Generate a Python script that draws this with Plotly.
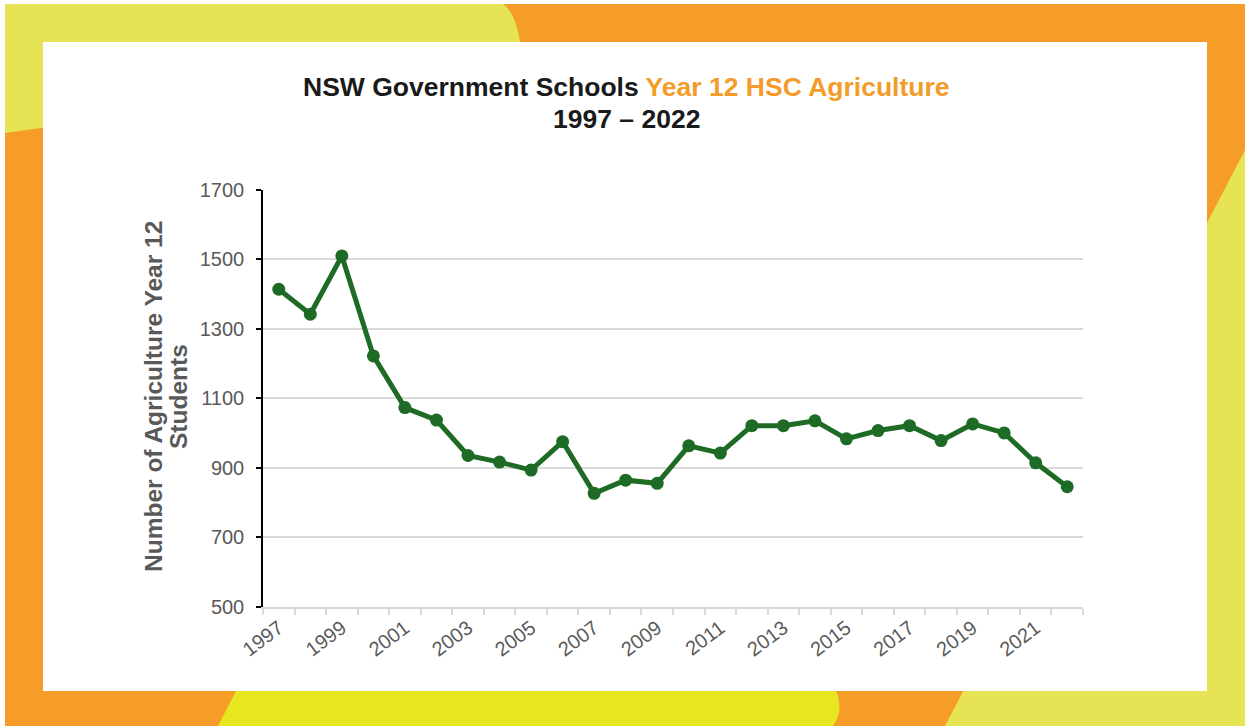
import plotly.graph_objects as go

years = list(range(1997, 2023))
students = [1414, 1342, 1510, 1222, 1073, 1037, 935, 916, 893, 975, 826, 864,
            855, 963, 942, 1021, 1021, 1035, 983, 1007, 1021, 978, 1026, 1000, 914, 845]
label_years = [y for y in years if y % 2 == 1]
y_ticks = [500, 700, 900, 1100, 1300, 1500, 1700]

W, H = 1245, 726
GREEN = "#1E6B25"
ORANGE = "#F59D28"
PALE_YELLOW = "#E6E455"
BRIGHT_YELLOW = "#E8E521"
GREY_TXT = "#595959"


def px(x):
    return min(max(x, 0), W) / W


def py(y):
    return 1 - min(max(y, 0), H) / H


def path_from(cmds):
    out = []
    for c in cmds:
        if isinstance(c, str):
            out.append(c)
        else:
            out.append(f"{px(c[0]):.5f},{py(c[1]):.5f}")
    return " ".join(out)


shapes = [
    # orange base (thin white edge top/left)
    dict(type="rect", xref="paper", yref="paper", x0=px(5), x1=px(W), y0=py(H), y1=py(4),
         fillcolor=ORANGE, line_width=0, layer="below"),
    # top-left pale yellow
    dict(type="path", xref="paper", yref="paper", layer="below", fillcolor=PALE_YELLOW, line_width=0,
         path=path_from(["M", (5, 4), "L", (503, 4), "Q", (519, 15), (522, 60), "L", (5, 133), "Z"])),
    # right pale yellow
    dict(type="path", xref="paper", yref="paper", layer="below", fillcolor=PALE_YELLOW, line_width=0,
         path=path_from(["M", (945, 726), "L", (1245, 150), "L", (1245, 726), "Z"])),
    # bottom bright yellow pill
    dict(type="path", xref="paper", yref="paper", layer="below", fillcolor=BRIGHT_YELLOW, line_width=0,
         path=path_from(["M", (218, 726), "L", (252, 660), "L", (815, 660), "Q", (852, 700), (833, 726), "Z"])),
    # white panel
    dict(type="rect", xref="paper", yref="paper", x0=px(43), x1=px(1207), y0=py(691), y1=py(42),
         fillcolor="white", line_width=0, layer="below"),
]

fig = go.Figure()
fig.add_trace(go.Scatter(
    x=years, y=students, mode="lines+markers",
    line=dict(color=GREEN, width=5),
    marker=dict(color=GREEN, size=13),
    hoverinfo="x+y", showlegend=False,
))

fig.update_layout(
    width=W, height=H,
    margin=dict(l=0, r=0, t=0, b=0, pad=0, autoexpand=False),
    paper_bgcolor="white",
    plot_bgcolor="rgba(0,0,0,0)",
    font=dict(family="Liberation Sans, Arial, sans-serif", color=GREY_TXT),
    shapes=shapes,
    xaxis=dict(
        domain=[px(263), px(1083)],
        range=[1996.5, 2022.5],
        automargin=False,
        tickmode="array", tickvals=label_years, ticktext=[str(y) for y in label_years],
        tickangle=-37, tickfont=dict(size=20, color=GREY_TXT),
        ticks="", showgrid=False, zeroline=False,
        showline=True, linecolor="#D9D9D9", linewidth=2,
        minor=dict(tickmode="array", tickvals=[y - 0.5 for y in years] + [2022.5],
                   ticks="outside", ticklen=6, tickcolor="#D9D9D9", tickwidth=1.5, showgrid=False),
    ),
    yaxis=dict(
        domain=[py(606.5), py(190)],
        range=[500, 1700],
        automargin=False,
        tickmode="array", tickvals=y_ticks,
        tickfont=dict(size=20, color=GREY_TXT),
        ticks="outside", ticklen=5, tickcolor="black", tickwidth=1.5,
        ticklabelstandoff=8,
        showline=True, linecolor="black", linewidth=1.5,
        showgrid=True, gridcolor="#D9D9D9", gridwidth=1.5,
        zeroline=False,
    ),
    annotations=[
        dict(xref="paper", yref="paper", x=px(626), y=py(87), xanchor="center", yanchor="middle",
             showarrow=False,
             text="<b>NSW Government Schools <span style='color:#F39C2A'>Year 12 HSC Agriculture</span></b>",
             font=dict(size=26.5, color="#1A1A1A")),
        dict(xref="paper", yref="paper", x=px(626), y=py(119), xanchor="center", yanchor="middle",
             showarrow=False, text="<b>1997 – 2022</b>",
             font=dict(size=26.5, color="#1A1A1A")),
        dict(xref="paper", yref="paper", x=px(153), y=py(397), xanchor="center", yanchor="middle",
             showarrow=False, textangle=-90,
             text="<b>Number of Agriculture Year 12</b>",
             font=dict(size=24.5, color=GREY_TXT)),
        dict(xref="paper", yref="paper", x=px(178), y=py(397), xanchor="center", yanchor="middle",
             showarrow=False, textangle=-90,
             text="<b>Students</b>",
             font=dict(size=24.5, color=GREY_TXT)),
    ],
)

fig.write_html("out.html")
